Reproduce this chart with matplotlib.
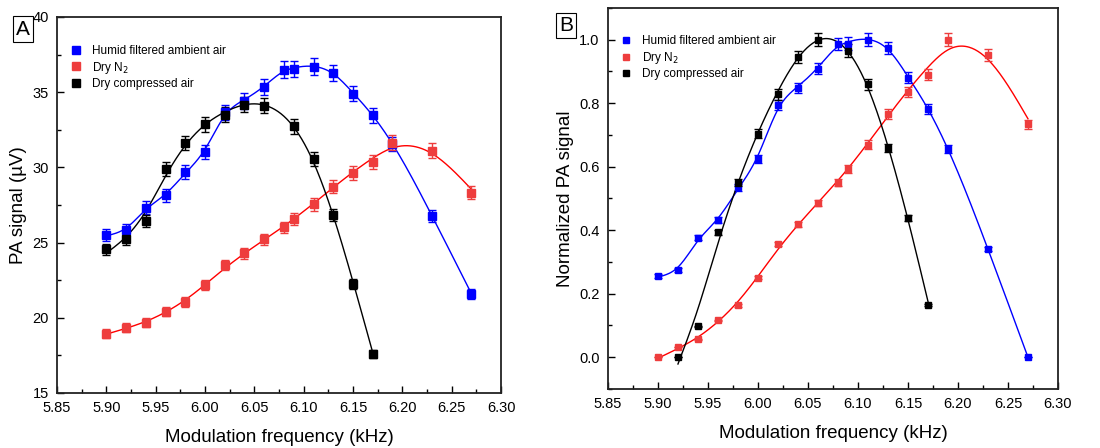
import matplotlib
matplotlib.use('Agg')
import matplotlib.pyplot as plt
from matplotlib.lines import Line2D
from matplotlib.ticker import MultipleLocator
import numpy as np

plt.rcParams['font.family'] = ['Liberation Sans', 'DejaVu Sans']

# frequencies (kHz)
freq_humid = [5.90, 5.92, 5.94, 5.96, 5.98, 6.00, 6.02, 6.04, 6.06, 6.08, 6.09,
              6.11, 6.13, 6.15, 6.17, 6.19, 6.23, 6.27]
freq_n2 = freq_humid
freq_comp = [5.90, 5.92, 5.94, 5.96, 5.98, 6.00, 6.02, 6.04, 6.06, 6.09, 6.11,
             6.13, 6.15, 6.17]
freq_comp_norm = [5.92, 5.94, 5.96, 5.98, 6.00, 6.02, 6.04, 6.06, 6.09, 6.11,
                  6.13, 6.15, 6.17]

# PA signal (uV)
pa_humid = [25.5, 25.84, 27.32, 28.14, 29.7, 31.0, 33.65, 34.43, 35.34, 36.5, 36.54,
            36.7, 36.27, 34.9, 33.45, 31.56, 26.77, 21.6]
pa_humid_err = [0.40, 0.40, 0.42, 0.42, 0.45, 0.46, 0.50, 0.52, 0.53, 0.55, 0.55,
                0.55, 0.55, 0.52, 0.50, 0.47, 0.40, 0.32]
pa_n2 = [18.95, 19.35, 19.68, 20.4, 21.04, 22.15, 23.5, 24.28, 25.21, 26.01, 26.57,
         27.54, 28.72, 29.63, 30.34, 31.65, 31.12, 28.32]
pa_n2_err = [0.28, 0.29, 0.30, 0.31, 0.32, 0.33, 0.35, 0.36, 0.38, 0.39, 0.40,
             0.41, 0.43, 0.44, 0.46, 0.47, 0.47, 0.42]
pa_comp = [24.55, 25.24, 26.43, 29.88, 31.6, 32.85, 33.5, 34.16, 34.1, 32.72, 30.56,
           26.83, 22.26, 17.58]
pa_comp_err = [0.37, 0.38, 0.40, 0.45, 0.47, 0.49, 0.50, 0.51, 0.51, 0.49, 0.46,
               0.40, 0.33, 0.26]

# normalized PA signal
norm_humid = [0.256, 0.275, 0.376, 0.432, 0.535, 0.623, 0.795, 0.848, 0.909, 0.986,
              0.988, 1.0, 0.973, 0.880, 0.783, 0.655, 0.340, 0.0]
norm_n2 = [0.0, 0.032, 0.056, 0.116, 0.163, 0.251, 0.356, 0.419, 0.487, 0.550,
           0.593, 0.670, 0.766, 0.835, 0.890, 1.0, 0.952, 0.734]
norm_comp = [0.0, 0.098, 0.394, 0.55, 0.704, 0.828, 0.947, 1.0, 0.966, 0.859,
             0.659, 0.438, 0.165]
norm_err = 0.02

labels = ['Humid filtered ambient air', 'Dry N$_2$', 'Dry compressed air']
colors = ['#0000FF', '#EE3D3D', '#000000']
line_colors = ['#0000FF', '#FF0000', '#000000']
stiffness = [0.3, 6.0, 3.0]


def smooth(x, y, p):
    # penalized smoothing curve on a 1 Hz grid (second-difference penalty)
    x = np.asarray(x)
    step = 0.001
    idx = np.rint((x - x[0]) / step).astype(int)
    n = idx[-1] + 1
    xs = x[0] + step * np.arange(n)
    D = np.diff(np.eye(n), 2, axis=0)
    A = p * 1000.0 * D.T @ D
    A[idx, idx] += 1.0
    rhs = np.zeros(n)
    rhs[idx] = y
    return xs, np.linalg.solve(A, rhs)


def style_axes(ax, ylab, ymajor, yminor):
    ax.set_xlim(5.85, 6.30)
    ax.xaxis.set_major_locator(MultipleLocator(0.05))
    ax.xaxis.set_minor_locator(MultipleLocator(0.025))
    ax.yaxis.set_major_locator(MultipleLocator(ymajor))
    ax.yaxis.set_minor_locator(MultipleLocator(yminor))
    ax.xaxis.set_major_formatter(plt.FuncFormatter(lambda v, p: '%.2f' % v))
    ax.tick_params(which='both', direction='in', top=False, right=False, labelsize=10.5)
    ax.tick_params(which='major', length=5, width=1, pad=6)
    ax.tick_params(which='minor', length=3, width=1)
    for s in ax.spines.values():
        s.set_linewidth(1.3)
        s.set_color('#222222')
    ax.set_xlabel('Modulation frequency (kHz)', fontsize=13.5, labelpad=10)
    ax.set_ylabel(ylab, fontsize=13.5, labelpad=4)


def legend(ax, anchor, ms):
    handles = [Line2D([], [], marker='s', ls='none', color=c, markersize=ms) for c in colors]
    ax.legend(handles, labels, loc='upper left', bbox_to_anchor=anchor, frameon=False,
              fontsize=8.5, handletextpad=0.75, labelspacing=0.2, handlelength=1.2)


fig = plt.figure(figsize=(11, 4.48), dpi=100)
ax1 = fig.add_axes([0.0518, 0.1228, 0.4037, 0.8394])
ax2 = fig.add_axes([0.5527, 0.1317, 0.4091, 0.8505])

# panel A: raw signal
sets_a = [(freq_humid, pa_humid, pa_humid_err), (freq_n2, pa_n2, pa_n2_err),
          (freq_comp, pa_comp, pa_comp_err)]
for (x, y, e), c, lc, p in zip(sets_a, colors, line_colors, stiffness):
    xs, ys = smooth(x, y, p)
    ax1.plot(xs, ys, color=lc, lw=1)
    ax1.errorbar(x, y, yerr=e, fmt='s', color=c, ecolor=c, markersize=6,
                 capsize=3, elinewidth=1, capthick=1)
ax1.set_ylim(15, 40)
style_axes(ax1, 'PA signal (\u00b5V)', 5, 2.5)
legend(ax1, (0.002, 0.953), 5.5)

# panel B: normalized signal
sets_b = [(freq_humid, norm_humid), (freq_n2, norm_n2), (freq_comp_norm, norm_comp)]
for (x, y), c, lc, p in zip(sets_b, colors, line_colors, stiffness):
    xs, ys = smooth(x, y, p)
    ax2.plot(xs, ys, color=lc, lw=1)
    err = norm_err * np.asarray(y)
    ax2.errorbar(x, y, yerr=err, fmt='s', color=c, ecolor=c, markersize=5,
                 capsize=3, elinewidth=1, capthick=1)
ax2.set_ylim(-0.1, 1.1)
style_axes(ax2, 'Normalized PA signal', 0.2, 0.1)
ax2.yaxis.set_major_formatter(plt.FuncFormatter(lambda v, p: '%.1f' % v))
legend(ax2, (0.0, 0.956), 4.5)

box = dict(boxstyle='square,pad=0.15', fc='white', ec='black', lw=0.8)
fig.text(0.0209, 0.935, 'A', fontsize=15, ha='center', va='center', bbox=box)
fig.text(0.5145, 0.943, 'B', fontsize=15, ha='center', va='center', bbox=box)

fig.savefig('out.png', dpi=100)
